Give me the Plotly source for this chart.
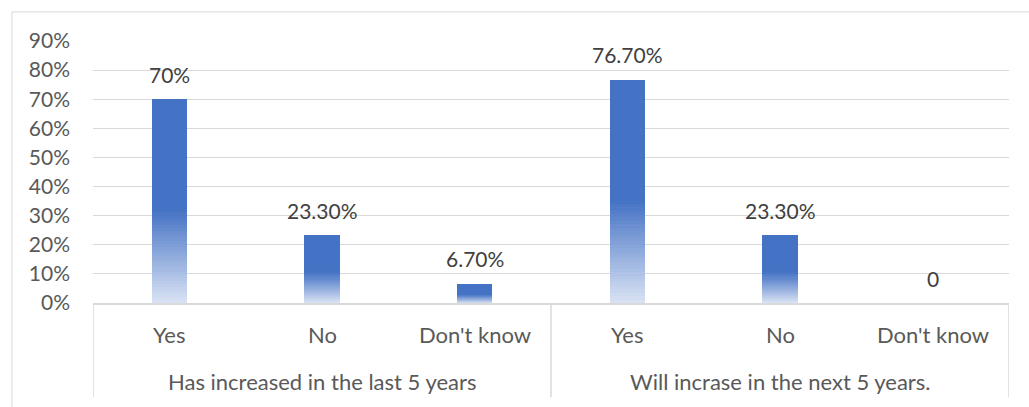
import plotly.graph_objects as go

groups = ["Has increased in the last 5 years"] * 3 + ["Will incrase in the next 5 years."] * 3
answers = ["Yes", "No", "Don't know", "Yes", "No", "Don't know"]
group_names = ["Has increased in the last 5 years", "Will incrase in the next 5 years."]
values = [0.70, 0.233, 0.067, 0.767, 0.233, 0.0]
labels = ["70%", "23.30%", "6.70%", "76.70%", "23.30%", "0"]
yticks = [0, 0.1, 0.2, 0.3, 0.4, 0.5, 0.6, 0.7, 0.8, 0.9]

FONT = "Lato"
FS = 21
solid = (68, 114, 196)
light = (218, 227, 244)
grad_frac = 0.46
N = 30

fig = go.Figure()
fig.add_trace(go.Bar(
    x=[groups, answers], y=[v * (1 - grad_frac) for v in values],
    base=[v * grad_frac for v in values],
    marker=dict(color="rgb(%d,%d,%d)" % solid, line=dict(width=0)),
    width=0.23, hoverinfo="skip", showlegend=False))
for k in range(N):
    t = (k + 0.5) / N
    c = tuple(round(light[i] + (solid[i] - light[i]) * t) for i in range(3))
    fig.add_trace(go.Bar(
        x=[groups, answers], y=[v * grad_frac / N * 1.02 for v in values],
        base=[v * grad_frac * k / N for v in values],
        marker=dict(color="rgb(%d,%d,%d)" % c, line=dict(width=0)),
        width=0.23, hoverinfo="skip", showlegend=False))

# data labels
for i, (v, lab) in enumerate(zip(values, labels)):
    fig.add_annotation(x=i, y=v, xref="x", yref="y", text=lab, showarrow=False,
                       yshift=25, font=dict(family=FONT, size=FS, color="#404040"))

# category labels (two levels)
for i, a in enumerate(answers):
    fig.add_annotation(x=i, y=-0.122, xref="x", yref="paper", text=a, showarrow=False,
                       yanchor="middle", font=dict(family=FONT, size=22, color="#595959"))
for j, g in enumerate(group_names):
    fig.add_annotation(x=j * 3 + 1, y=-0.298, xref="x", yref="paper", text=g, showarrow=False,
                       yanchor="middle", font=dict(family=FONT, size=22, color="#595959"))

# dividers
for xd in [-0.5, 2.5, 5.5]:
    fig.add_shape(type="line", xref="x", yref="paper", x0=xd, x1=xd, y0=0, y1=-0.36,
                  line=dict(color="#d9d9d9", width=1.5))

# outer chart border
fig.add_shape(type="rect", xref="paper", yref="paper", x0=-0.0885, x1=1.03, y0=-0.5, y1=1.111,
              line=dict(color="#d9d9d9", width=1), fillcolor="rgba(0,0,0,0)", layer="below")

fig.update_layout(
    width=1029, height=407,
    margin=dict(l=93, r=20, t=41, b=104),
    paper_bgcolor="white", plot_bgcolor="white",
    barmode="overlay", bargap=0,
    font=dict(family=FONT, size=FS, color="#595959"),
    xaxis=dict(type="multicategory", showline=True, linecolor="#d9d9d9", linewidth=1.5,
               showticklabels=False, showdividers=False, ticks="", range=[-0.5, 5.5]),
    yaxis=dict(range=[0, 0.9], tickvals=yticks, tickformat=".0%", showgrid=True,
               gridcolor="#d9d9d9", gridwidth=1, zeroline=False, showline=False,
               tickfont=dict(family=FONT, size=FS, color="#595959"), ticklabelstandoff=22),
)

fig.write_html("out.html")
